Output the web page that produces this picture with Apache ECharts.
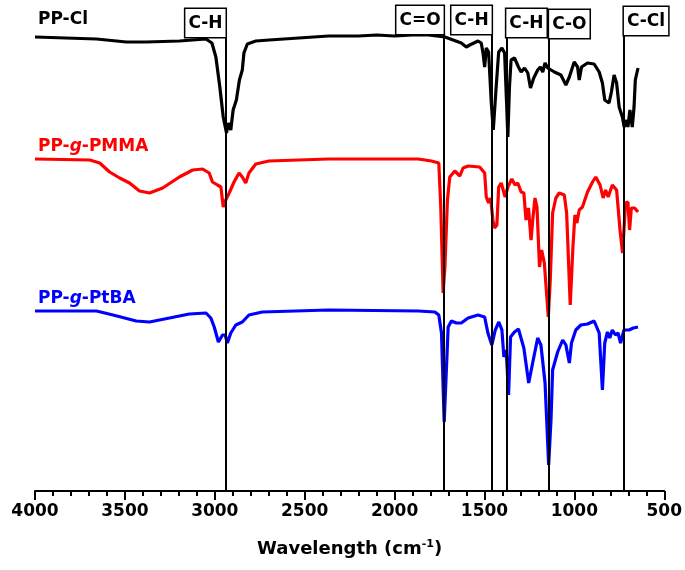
<!DOCTYPE html>
<html>
<head>
<meta charset="utf-8">
<script src="https://cdn.jsdelivr.net/npm/echarts@6/dist/echarts.min.js"></script>
<style>html,body{margin:0;padding:0;background:#fff}#c{width:685px;height:570px}</style>
</head>
<body>
<div id="c"></div>
<script>
// wavenumber (cm-1), transmittance (offset, arbitrary units)
const ppClWavenumber = [4000,3658,3492,3382,3197,3049,3016,2994,2972,2953,2935,2924,2911,2898,2880,2863,2847,2838,2819,2772,2698,2367,2200,2100,2000,1900,1813,1720,1629,1601,1582,1536,1518,1508,1499,1490,1477,1462,1451,1435,1421,1403,1388,1377,1370,1361,1352,1333,1311,1296,1277,1259,1244,1226,1204,1189,1176,1163,1148,1111,1075,1047,1028,1001,982,973,960,927,890,862,844,831,807,794,779,765,751,733,723,711,702,691,678,668,661,646];
const ppClT = [454,452,449,449,450,452,448,434,404,374,358,368,361,381,391,411,421,438,447,450,451,455,455,456,455,456,456,454,448,444,446,450,448,438,424,443,439,388,361,404,439,443,438,388,354,404,431,433,424,419,423,418,403,413,421,424,419,428,423,419,416,406,414,429,424,411,424,428,427,419,408,391,388,399,416,408,384,374,364,371,364,381,364,384,411,423];

const pmmaWavenumber = [4000,3695,3640,3585,3529,3474,3419,3363,3290,3197,3123,3068,3031,3013,2985,2966,2953,2939,2920,2893,2865,2847,2828,2810,2772,2699,2367,1868,1795,1754,1743,1730,1720,1706,1693,1665,1637,1619,1591,1527,1499,1490,1477,1466,1453,1444,1431,1421,1407,1385,1370,1348,1330,1315,1296,1281,1269,1255,1241,1230,1219,1208,1194,1182,1167,1145,1134,1121,1103,1084,1056,1043,1023,1008,997,986,973,955,927,899,881,857,840,826,812,789,765,746,732,715,702,693,683,665,646];
const pmmaT = [332,331,328,319,313,308,300,298,303,314,321,322,318,309,306,304,284,291,298,309,318,314,308,318,327,330,332,332,330,328,284,198,224,291,314,320,315,323,325,324,318,294,288,293,271,263,266,304,308,294,304,312,306,308,299,298,271,283,251,274,293,284,224,241,228,174,211,278,293,298,296,278,186,244,276,268,281,284,299,309,314,306,293,301,294,306,301,261,238,288,289,261,283,283,279];

const ptbaWavenumber = [4000,3658,3566,3437,3363,3252,3142,3049,3022,3003,2980,2957,2942,2930,2911,2883,2847,2810,2736,2367,1868,1776,1754,1739,1724,1715,1702,1684,1656,1629,1591,1536,1499,1481,1459,1440,1420,1403,1392,1379,1366,1355,1333,1311,1281,1254,1231,1204,1186,1163,1143,1130,1121,1093,1065,1047,1028,1016,992,964,927,890,862,844,831,816,803,789,771,757,743,724,696,672,646];
const ptbaT = [180,180,176,170,169,173,177,178,173,164,149,156,156,148,158,166,169,176,179,181,180,179,176,158,69,108,164,170,168,168,173,176,174,158,146,161,169,161,134,141,96,154,159,162,143,108,129,153,146,108,26,71,121,139,151,146,128,148,161,166,167,170,158,101,148,159,153,161,156,158,148,161,161,163,164];

const bondLabels = ['C-H','C=O','C-H','C-H','C-O','C-Cl'];
const bondWavenumbers = [2940,1727,1460,1378,1140,724];

const xTickLabels = ['4000','3500','3000','2500','2000','1500','1000','500'];

const FONT = 'DejaVu Sans, Liberation Sans, Arial, sans-serif';
// annotation box placement (style): bottom level of box & which side of the line
const boxLevel = [454,457,457,454,453,456];
const boxSide = ['left','left','left','right','right','right'];

function pairs(xs, ys){ return xs.map((x,i)=>[x, ys[i]]); }

const chart = echarts.init(document.getElementById('c'), null, {renderer:'canvas'});
const option = {
  animation:false,
  backgroundColor:'#fff',
  title:[
    {text:'PP-Cl', left:33, top:6, textStyle:{color:'#000', fontFamily:FONT, fontWeight:'bold', fontSize:17}},
    {text:'PP-{i|g}-PMMA', left:33, top:133, textStyle:{color:'#ff0000', fontFamily:FONT, fontWeight:'bold', fontSize:17,
      rich:{i:{color:'#ff0000', fontFamily:FONT, fontWeight:'bold', fontStyle:'italic', fontSize:17}}}},
    {text:'PP-{i|g}-PtBA', left:33, top:285, textStyle:{color:'#0000ff', fontFamily:FONT, fontWeight:'bold', fontSize:17,
      rich:{i:{color:'#0000ff', fontFamily:FONT, fontWeight:'bold', fontStyle:'italic', fontSize:17}}}}
  ],
  grid:{left:35, right:18, top:11, bottom:79, containLabel:false},
  xAxis:{
    type:'value', min:500, max:4000, interval:500, inverse:true,
    name:'Wavelength (cm{s|-1})', nameLocation:'middle', nameGap:48,
    nameTextStyle:{color:'#000', fontFamily:FONT, fontWeight:'bold', fontSize:18,
      rich:{s:{fontFamily:FONT, fontWeight:'bold', fontSize:11, verticalAlign:'top', padding:[0,0,10,0], color:'#000'}}},
    axisLine:{show:true, onZero:false, lineStyle:{color:'#000', width:2}},
    axisTick:{show:true, inside:false, length:9, lineStyle:{color:'#000', width:2}},
    minorTick:{show:true, splitNumber:5, length:5, lineStyle:{color:'#000', width:2}},
    splitLine:{show:false},
    axisLabel:{color:'#000', fontFamily:FONT, fontWeight:'bold', fontSize:17, margin:12,
      formatter:(v)=>{ const s=String(v); return xTickLabels.indexOf(s)>=0 ? s : ''; }}
  },
  yAxis:{type:'value', min:0, max:480, show:false},
  series:[
    {name:'PP-Cl', type:'line', data:pairs(ppClWavenumber, ppClT), showSymbol:false, clip:false,
      lineStyle:{color:'#000', width:3.2}, itemStyle:{color:'#000'}, z:3},
    {name:'PP-g-PMMA', type:'line', data:pairs(pmmaWavenumber, pmmaT), showSymbol:false, clip:false,
      lineStyle:{color:'#ff0000', width:3.2}, itemStyle:{color:'#ff0000'}, z:3},
    {name:'PP-g-PtBA', type:'line', data:pairs(ptbaWavenumber, ptbaT), showSymbol:false, clip:false,
      lineStyle:{color:'#0000ff', width:3.2}, itemStyle:{color:'#0000ff'}, z:3},
    {name:'bonds', type:'scatter', symbolSize:0.1, silent:true, z:5,
      itemStyle:{opacity:1, color:'#000'},
      data: bondWavenumbers.map((w,i)=>({
        value:[w, boxLevel[i]],
        label:{show:true, formatter:bondLabels[i], position:[0,0],
          align: boxSide[i]==='left' ? 'right' : 'left', verticalAlign:'bottom',
          color:'#000', opacity:1, textBorderWidth:0, textShadowBlur:0,
          fontFamily:FONT, fontWeight:'bold', fontSize:17, lineHeight:19,
          backgroundColor:'#fff', borderColor:'#000', borderWidth:1.5, padding:[5,3,4,3]}
      })),
      markLine:{silent:true, symbol:['none','none'], animation:false,
        lineStyle:{color:'#000', width:2, type:'solid', opacity:1}, label:{show:false},
        data: bondWavenumbers.map((w,i)=>[{coord:[w, boxLevel[i]]},{coord:[w, 0]}])}
    }
  ]
};
chart.setOption(option);
</script>
</body>
</html>
